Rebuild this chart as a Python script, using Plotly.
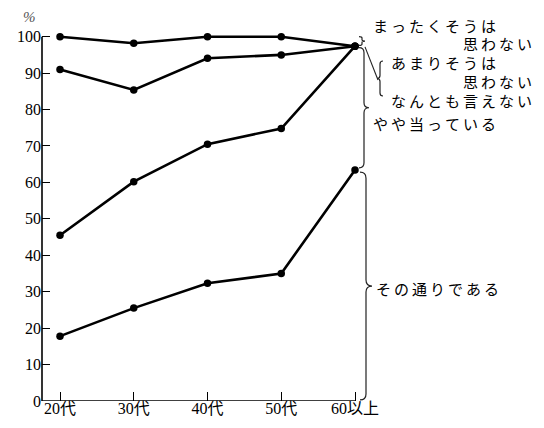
import plotly.graph_objects as go

# ---------------- data ----------------
categories = ["20代", "30代", "40代", "50代", "60以上"]
line_a = [100.0, 98.2, 100.0, 100.0, 97.4]   # top boundary
line_b = [91.0, 85.4, 94.1, 95.0, 97.4]
line_c = [45.5, 60.2, 70.5, 74.8, 97.4]
line_d = [17.8, 25.5, 32.3, 35.0, 63.4]      # その通りである
y_ticks = list(range(0, 101, 10))

# ---------------- layout geometry (window pixels) ----------------
OFF = 8                          # default page body margin
WIN_W, WIN_H = 544, 428
PL, PB = 42, 401                 # plot-area left edge / y=0 line in window px
PT = 31                          # plot-area top in window px
W, H = WIN_W - OFF, WIN_H - OFF
ML, MT = PL - OFF, PT - OFF
MB = H - (PB - OFF)
MR = 0
PW, PH = W - ML - MR, H - MT - MB
X0_PX, X_STEP = 60, 73.75        # window px of first category and spacing
Y_PX = 3.643                     # pixels per percent
xmin = (PL - X0_PX) / X_STEP
xmax = xmin + PW / X_STEP
ymax = PH / Y_PX


def py2y(py):
    return (PB - py) / Y_PX


def px2paper(px):
    return (px - PL) / PW


def py2paper(py):
    return (PB - py) / PH


def dx(p):
    return p / X_STEP


def dy(p):
    return p / Y_PX


x_idx = list(range(len(categories)))
last = x_idx[-1]

fig = go.Figure()
for ys in (line_a, line_b, line_c, line_d):
    fig.add_trace(go.Scatter(
        x=x_idx, y=ys, mode="lines+markers",
        line=dict(color="black", width=2.6),
        marker=dict(color="black", size=7.5),
        cliponaxis=False, hoverinfo="skip"))


def brace(xv_px, y_top, y_bot, w_px, h_px, direction=1, color="#222", width=1.2):
    """Curly brace, vertical line at pixel offset xv_px from last category."""
    xv = last + dx(xv_px)
    w = dx(w_px) * direction
    h = dy(h_px)
    ym = (y_top + y_bot) / 2
    p = (f"M {xv - w},{y_top} Q {xv},{y_top} {xv},{y_top - h} "
         f"L {xv},{ym + h} Q {xv},{ym} {xv + w},{ym} "
         f"Q {xv},{ym} {xv},{ym - h} "
         f"L {xv},{y_bot + h} Q {xv},{y_bot} {xv - w},{y_bot}")
    return dict(type="path", path=p, xref="x", yref="y",
                line=dict(color=color, width=width))


shapes = []
# axis lines
shapes.append(dict(type="line", xref="paper", yref="y", x0=0, x1=0, y0=0, y1=100,
                   line=dict(color="black", width=1.6)))
shapes.append(dict(type="line", xref="x", yref="y", x0=xmin, x1=last, y0=0, y1=0,
                   line=dict(color="black", width=1.6)))
# braces
shapes.append(brace(7, 100, line_a[-1] + 0.2, 3, 1.2))
shapes.append(brace(9, line_c[-1] - 0.4, line_d[-1] + 0.6, 5, 5))
shapes.append(brace(11, line_d[-1] - 0.6, 0.3, 6, 6))
# connector from top to the two-item bracket
shapes.append(dict(type="line", xref="x", yref="y",
                   x0=last + dx(10), y0=line_a[-1] - 0.2,
                   x1=last + dx(23), y1=py2y(80),
                   line=dict(color="#222", width=1.1)))
shapes.append(brace(25, py2y(61), py2y(96), 3, 3, direction=-1))

jp = "Noto Sans CJK JP"
fs = 15
SP = "\u2009"   # thin space used as letter spacing
ann = []


def label(text, px, py, anchor="left"):
    spaced = SP.join(text)
    ann.append(dict(text=spaced, x=px2paper(px), y=py2paper(py), xref="paper", yref="paper",
                    xanchor=anchor, yanchor="middle", showarrow=False,
                    font=dict(family=jp, size=fs, color="black")))


label("まったくそうは", 371, 26)
label("思わない", 534, 44, "right")
label("あまりそうは", 389, 62.5)
label("思わない", 534, 81.5, "right")
label("なんとも言えない", 389, 100)
label("やや当っている", 371, 123.5)
label("その通りである", 374, 288)

ann.append(dict(text="<i>%</i>", x=px2paper(29), y=py2paper(17), xref="paper", yref="paper",
                xanchor="center", yanchor="middle", showarrow=False,
                font=dict(family="Liberation Serif", size=15, color="#555")))

fig.update_layout(
    width=W, height=H,
    margin=dict(l=ML, r=MR, t=MT, b=MB, pad=0),
    paper_bgcolor="white", plot_bgcolor="white",
    showlegend=False, hovermode=False,
    shapes=shapes, annotations=ann,
    xaxis=dict(range=[xmin, xmax], tickvals=x_idx, ticktext=categories,
               ticks="inside", ticklen=9, tickwidth=1.4, tickcolor="black",
               showline=False, showgrid=False, zeroline=False,
               ticklabelstandoff=-4,
               tickfont=dict(family="Liberation Serif, " + jp, size=16, color="black")),
    yaxis=dict(range=[0, ymax], tickvals=y_ticks,
               ticks="inside", ticklen=8, tickwidth=1.4, tickcolor="black",
               showline=False, showgrid=False, zeroline=False,
               tickfont=dict(family="Liberation Serif", size=16, color="black")),
)

fig.write_html("out.html")
